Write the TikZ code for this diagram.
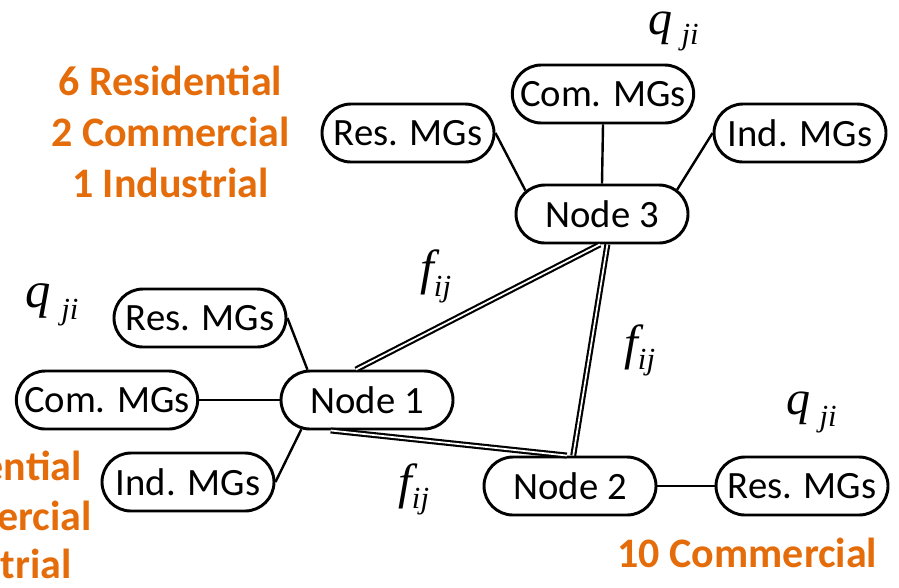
\documentclass[tikz,border=0pt]{standalone}
\usepackage{fontspec}
\setmainfont{Carlito}
\newfontfamily\serifit{Liberation Serif}
\usetikzlibrary{shapes.misc}
\definecolor{countorange}{RGB}{228,108,10}

% italic symbol with a lowered index: base, index, base size, index size, kern, drop
\newcommand{\symsub}[6]{{\serifit\itshape\fontsize{#3}{#3}\selectfont #1\kern#5\raisebox{-#6}{\fontsize{#4}{#4}\selectfont #2}}}

\tikzset{
  pill/.style={rounded rectangle, draw, line width=2.2pt, fill=white,
    minimum height=43.5pt, minimum width=89pt, inner xsep=-20pt, inner ysep=0pt,
    font=\fontsize{29}{29}\selectfont},
  widepill/.style={pill, minimum width=96pt},
  link/.style={line width=1.8pt},
  line/.style={double, line width=1.6pt, double distance=1.3pt},
  count/.style={text=countorange, inner sep=0pt, font=\bfseries\fontsize{31.5}{31.5}\selectfont},
  sym/.style={inner sep=0pt, anchor=base west}
}

\begin{document}
\begin{tikzpicture}[x=0.75pt, y=-0.75pt]
\useasboundingbox (0,0) rectangle (899,587);
\clip (0,0) rectangle (899,587);

% buses
\node[pill] (node1) at (367,400) {Node 1};
\node[pill] (node2) at (570,486) {Node 2};
\node[pill] (node3) at (602,214) {Node 3};

% microgrid groups at node 1
\node[pill] (res1) at (200,318) {Res. MGs};
\node[widepill] (com1) at (107,400) {Com. MGs};
\node[pill] (ind1) at (188,482) {Ind. MGs};

% microgrid groups at node 3
\node[pill] (res3) at (408,133) {Res. MGs};
\node[widepill] (com3) at (603,94) {Com. MGs};
\node[pill] (ind3) at (800,133) {Ind. MGs};

% microgrid group at node 2
\node[pill] (res2) at (802,486) {Res. MGs};

% lines between buses
\draw[line] (node1.110) -- (node3.266);
\draw[line] (node3.280) -- (node2.84);
\draw[line] (node1.220) -- (node2.96);

% microgrid connections
\draw[link] (res1.east) -- (node1.153);
\draw[link] (com1.east) -- (node1.west);
\draw[link] (ind1.east) -- (node1.204);
\draw[link] (res3.east) -- (node3.163);
\draw[link] (com3.south) -- (node3.north);
\draw[link] (ind3.west) -- (node3.18);
\draw[link] (node2.east) -- (res2.west);

% flow symbols
\node[sym] (qtop) at (648,34) {\symsub{q}{ji}{36pt}{23pt}{7pt}{8pt}};
\node[sym] (qleft) at (25,307) {\symsub{q}{ji}{38pt}{23pt}{8pt}{9pt}};
\node[sym] (qright) at (786,414) {\symsub{q}{ji}{36pt}{23pt}{7pt}{9pt}};
\node[sym] (ftop) at (420,284) {\symsub{f}{ij}{37pt}{23pt}{0pt}{9pt}};
\node[sym] (fright) at (624,359) {\symsub{f}{ij}{37pt}{23pt}{0pt}{8pt}};
\node[sym] (fbottom) at (398,498) {\symsub{f}{ij}{37pt}{23pt}{0pt}{8pt}};

% microgrid counts
\node[count, anchor=base] (cnt3a) at (170.5,95) {6 Residential};
\node[count, anchor=base] (cnt3b) at (170.5,146) {2 Commercial};
\node[count, anchor=base] (cnt3c) at (170.5,197) {1 Industrial};
\node[count, anchor=base east] (cnt1a) at (82,480) {Residential};
\node[count, anchor=base east] (cnt1b) at (92,530) {Commercial};
\node[count, anchor=base east] (cnt1c) at (72,578) {Industrial};
\node[count, anchor=base] (cnt2) at (747.5,567) {10 Commercial};
\end{tikzpicture}
\end{document}
